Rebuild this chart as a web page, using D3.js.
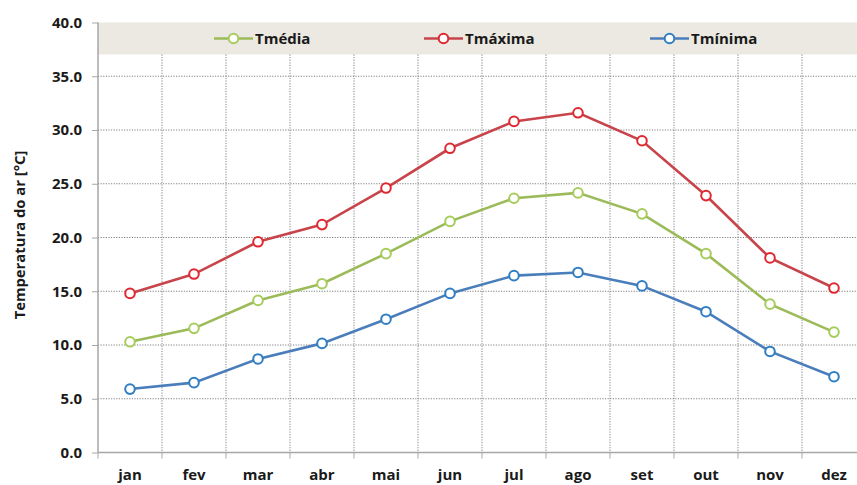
<!DOCTYPE html>
<html>
<head>
<meta charset="utf-8">
<script src="https://cdn.jsdelivr.net/npm/d3@7"></script>
<style>
  body { margin: 0; background: #fff; }
  text { font-family: "Open Sans", sans-serif; font-weight: bold; fill: #1a1a1a; }
</style>
</head>
<body>
<svg id="chart"></svg>
<script>
const months = ["jan", "fev", "mar", "abr", "mai", "jun", "jul", "ago", "set", "out", "nov", "dez"];
const tMedia = [10.3, 11.55, 14.15, 15.7, 18.5, 21.5, 23.65, 24.15, 22.2, 18.5, 13.8, 11.2];
const tMaxima = [14.8, 16.6, 19.6, 21.2, 24.6, 28.3, 30.8, 31.6, 29.0, 23.9, 18.1, 15.3];
const tMinima = [5.9, 6.5, 8.7, 10.15, 12.4, 14.8, 16.45, 16.75, 15.5, 13.1, 9.4, 7.05];
const yTicks = [0, 5, 10, 15, 20, 25, 30, 35, 40];

const series = [
    {name: "Tmédia", values: tMedia, line: "#9bbb59", mark: "#a6cc5c", lx: 214},
    {name: "Tmáxima", values: tMaxima, line: "#c8444b", mark: "#e0262f", lx: 424},
    {name: "Tmínima", values: tMinima, line: "#4a7ebb", mark: "#2f7ec4", lx: 650}
];

const W = 857, H = 485;
const pLeft = 98, pRight = 866, pTop = 22.5, pBottom = 452.5;

const svg = d3.select("#chart")
    .attr("width", W)
    .attr("height", H)
    .attr("viewBox", [0, 0, W, H]);

const x = d3.scaleBand().domain(months).range([pLeft, pRight]);
const y = d3.scaleLinear().domain([0, 40]).range([pBottom, pTop]);

// legend band
svg.append("rect")
    .attr("x", pLeft)
    .attr("y", y(40))
    .attr("width", pRight - pLeft)
    .attr("height", 32)
    .attr("fill", "#ebe9e1");

// horizontal grid
svg.append("g")
    .selectAll("line")
    .data(yTicks.filter(d => d > 0 && d < 40))
    .join("line")
    .attr("x1", pLeft).attr("x2", pRight)
    .attr("y1", d => y(d)).attr("y2", d => y(d))
    .attr("stroke", "#808080")
    .attr("stroke-width", 1)
    .attr("stroke-dasharray", "1.2,1.4");

// vertical grid at category boundaries
svg.append("g")
    .selectAll("line")
    .data(months.slice(1))
    .join("line")
    .attr("x1", d => x(d)).attr("x2", d => x(d))
    .attr("y1", y(40) + 32).attr("y2", pBottom)
    .attr("stroke", "#808080")
    .attr("stroke-width", 1)
    .attr("stroke-dasharray", "1.2,1.4");

// y axis
const yAxis = svg.append("g")
    .attr("transform", `translate(${pLeft},0)`)
    .call(d3.axisLeft(y).tickValues(yTicks).tickFormat(d3.format(".1f")).tickSize(6).tickPadding(10));
yAxis.select(".domain").attr("stroke", "#a6a6a6").attr("stroke-width", 1.5).attr("d", `M0,${y(40)}V${pBottom}`);
yAxis.selectAll(".tick line").attr("stroke", "#a6a6a6");
yAxis.selectAll(".tick text").attr("font-size", 15).attr("fill", "#1a1a1a")
    .style("font-family", "'Open Sans', sans-serif").style("font-weight", "bold");

// x axis
const xAxis = svg.append("g")
    .attr("transform", `translate(0,${pBottom})`)
    .call(d3.axisBottom(x).tickSize(0).tickPadding(17));
xAxis.select(".domain").attr("stroke", "#a6a6a6").attr("stroke-width", 1.5).attr("d", `M${pLeft},0H${pRight}`);
xAxis.selectAll(".tick text").attr("font-size", 15).attr("fill", "#1a1a1a")
    .style("font-family", "'Open Sans', sans-serif").style("font-weight", "bold");
xAxis.append("g")
    .selectAll("line")
    .data(months)
    .join("line")
    .attr("x1", d => x(d)).attr("x2", d => x(d))
    .attr("y1", 0).attr("y2", 6)
    .attr("stroke", "#a6a6a6");

// y title
svg.append("text")
    .attr("transform", "translate(25,235) rotate(-90)")
    .attr("text-anchor", "middle")
    .attr("font-size", 14.8)
    .text("Temperatura do ar [°C]");

const line = d3.line()
    .x((d, i) => x(months[i]) + x.bandwidth() / 2)
    .y(d => y(d));

series.forEach(s => {
    svg.append("path")
        .datum(s.values)
        .attr("d", line)
        .attr("fill", "none")
        .attr("stroke", s.line)
        .attr("stroke-width", 2.6);
    svg.append("g")
        .selectAll("circle")
        .data(s.values)
        .join("circle")
        .attr("cx", (d, i) => x(months[i]) + x.bandwidth() / 2)
        .attr("cy", d => y(d))
        .attr("r", 4.8)
        .attr("fill", "#fff")
        .attr("stroke", s.mark)
        .attr("stroke-width", 2);

    // legend entry
    const ly = y(40) + 16;
    const lg = svg.append("g");
    lg.append("line")
        .attr("x1", s.lx).attr("x2", s.lx + 39)
        .attr("y1", ly).attr("y2", ly)
        .attr("stroke", s.line).attr("stroke-width", 2.6);
    lg.append("circle")
        .attr("cx", s.lx + 19.5).attr("cy", ly).attr("r", 4.8)
        .attr("fill", "#fff").attr("stroke", s.mark).attr("stroke-width", 2);
    lg.append("text")
        .attr("x", s.lx + 41).attr("y", ly + 5.5)
        .attr("font-size", 15)
        .text(s.name);
});
</script>
</body>
</html>
